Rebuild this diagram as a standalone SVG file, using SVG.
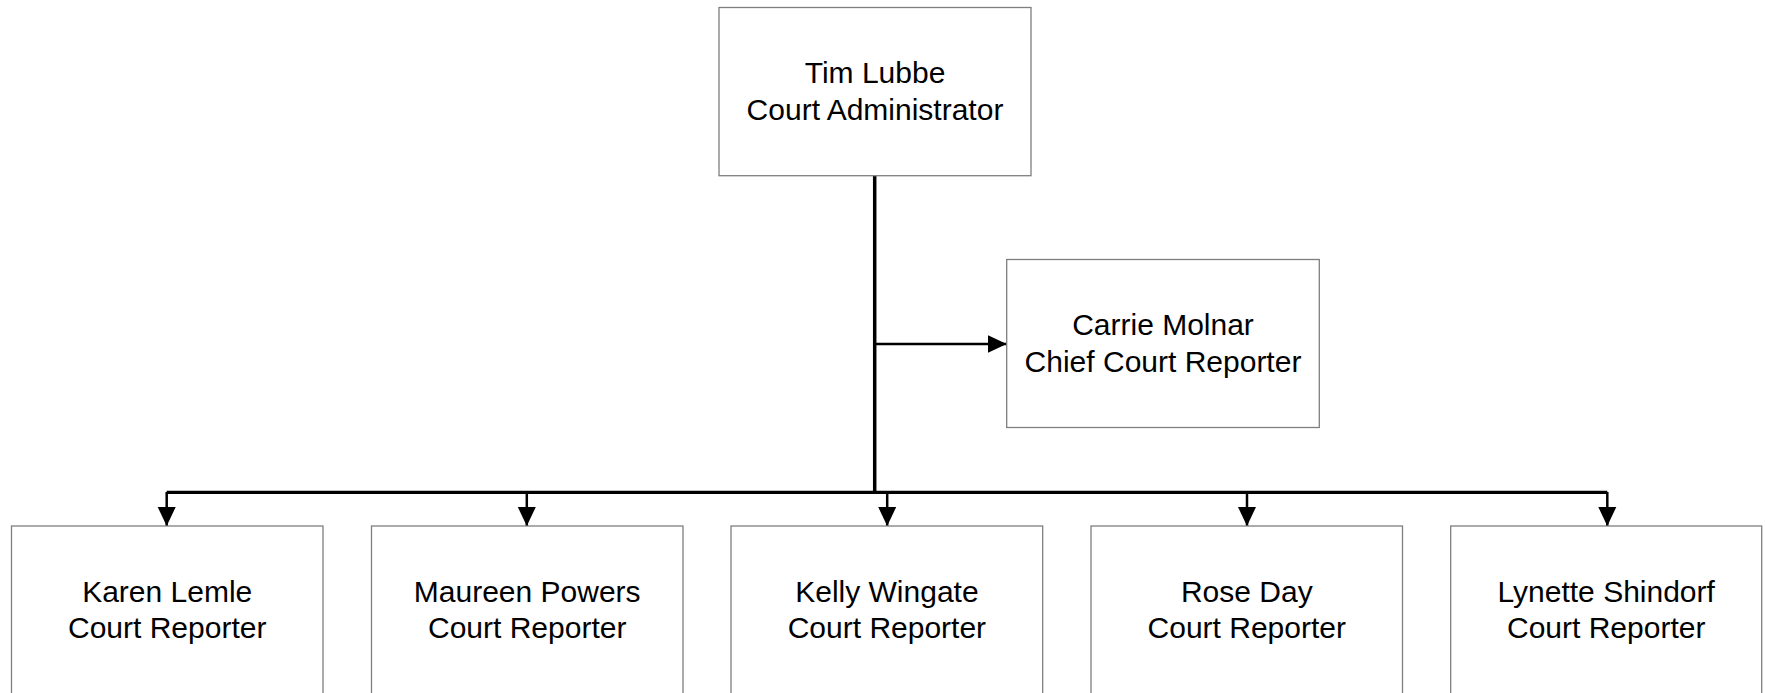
<svg xmlns="http://www.w3.org/2000/svg" width="1765" height="693" viewBox="0 0 1765 693">
<style>
.box{fill:#ffffff;stroke:#7f7f7f;stroke-width:1.3}
.lbl{font-family:"Liberation Sans",Arial,sans-serif;font-size:30px;fill:#000000;text-anchor:middle}
.trunk{fill:none;stroke:#000000;stroke-width:3.5}
.bus{fill:none;stroke:#000000;stroke-width:3.2}
.branch{fill:none;stroke:#000000;stroke-width:2.5}
</style>
<defs>
<marker id="arr" markerUnits="userSpaceOnUse" markerWidth="20" markerHeight="20" viewBox="0 0 20 18" refX="19" refY="9" orient="auto">
<path d="M0,0 L19,9 L0,18 Z" fill="#000000"/>
</marker>
</defs>
<rect x="0" y="0" width="1765" height="693" fill="#ffffff"/>
<g id="connectors">
<line class="trunk" x1="874.7" y1="175.7" x2="874.7" y2="494"/>
<line class="branch" x1="874.7" y1="344" x2="1006.7" y2="344" marker-end="url(#arr)"/>
<line class="bus" x1="166.7" y1="492.3" x2="1607.3" y2="492.3"/>
<line class="branch" x1="166.7" y1="492" x2="166.7" y2="526" marker-end="url(#arr)"/>
<line class="branch" x1="526.8" y1="492" x2="526.8" y2="526" marker-end="url(#arr)"/>
<line class="branch" x1="887.2" y1="492" x2="887.2" y2="526" marker-end="url(#arr)"/>
<line class="branch" x1="1247" y1="492" x2="1247" y2="526" marker-end="url(#arr)"/>
<line class="branch" x1="1607.3" y1="492" x2="1607.3" y2="526" marker-end="url(#arr)"/>
</g>
<g id="node-tim">
<rect class="box" x="719" y="7.5" width="312" height="168.2"/>
<text class="lbl" x="875" y="83.3">Tim Lubbe</text>
<text class="lbl" x="875" y="120">Court Administrator</text>
</g>
<g id="node-carrie">
<rect class="box" x="1006.7" y="259.5" width="312.6" height="168"/>
<text class="lbl" x="1163" y="335.2">Carrie Molnar</text>
<text class="lbl" x="1163" y="371.9">Chief Court Reporter</text>
</g>
<g id="node-karen">
<rect class="box" x="11.5" y="526" width="311.5" height="168"/>
<text class="lbl" x="167.2" y="601.7">Karen Lemle</text>
<text class="lbl" x="167.2" y="638.4">Court Reporter</text>
</g>
<g id="node-maureen">
<rect class="box" x="371.5" y="526" width="311.5" height="168"/>
<text class="lbl" x="527.2" y="601.7">Maureen Powers</text>
<text class="lbl" x="527.2" y="638.4">Court Reporter</text>
</g>
<g id="node-kelly">
<rect class="box" x="731" y="526" width="311.7" height="168"/>
<text class="lbl" x="886.9" y="601.7">Kelly Wingate</text>
<text class="lbl" x="886.9" y="638.4">Court Reporter</text>
</g>
<g id="node-rose">
<rect class="box" x="1091" y="526" width="311.5" height="168"/>
<text class="lbl" x="1246.8" y="601.7">Rose Day</text>
<text class="lbl" x="1246.8" y="638.4">Court Reporter</text>
</g>
<g id="node-lynette">
<rect class="box" x="1450.7" y="526" width="311" height="168"/>
<text class="lbl" x="1606.2" y="601.7">Lynette Shindorf</text>
<text class="lbl" x="1606.2" y="638.4">Court Reporter</text>
</g>
</svg>
